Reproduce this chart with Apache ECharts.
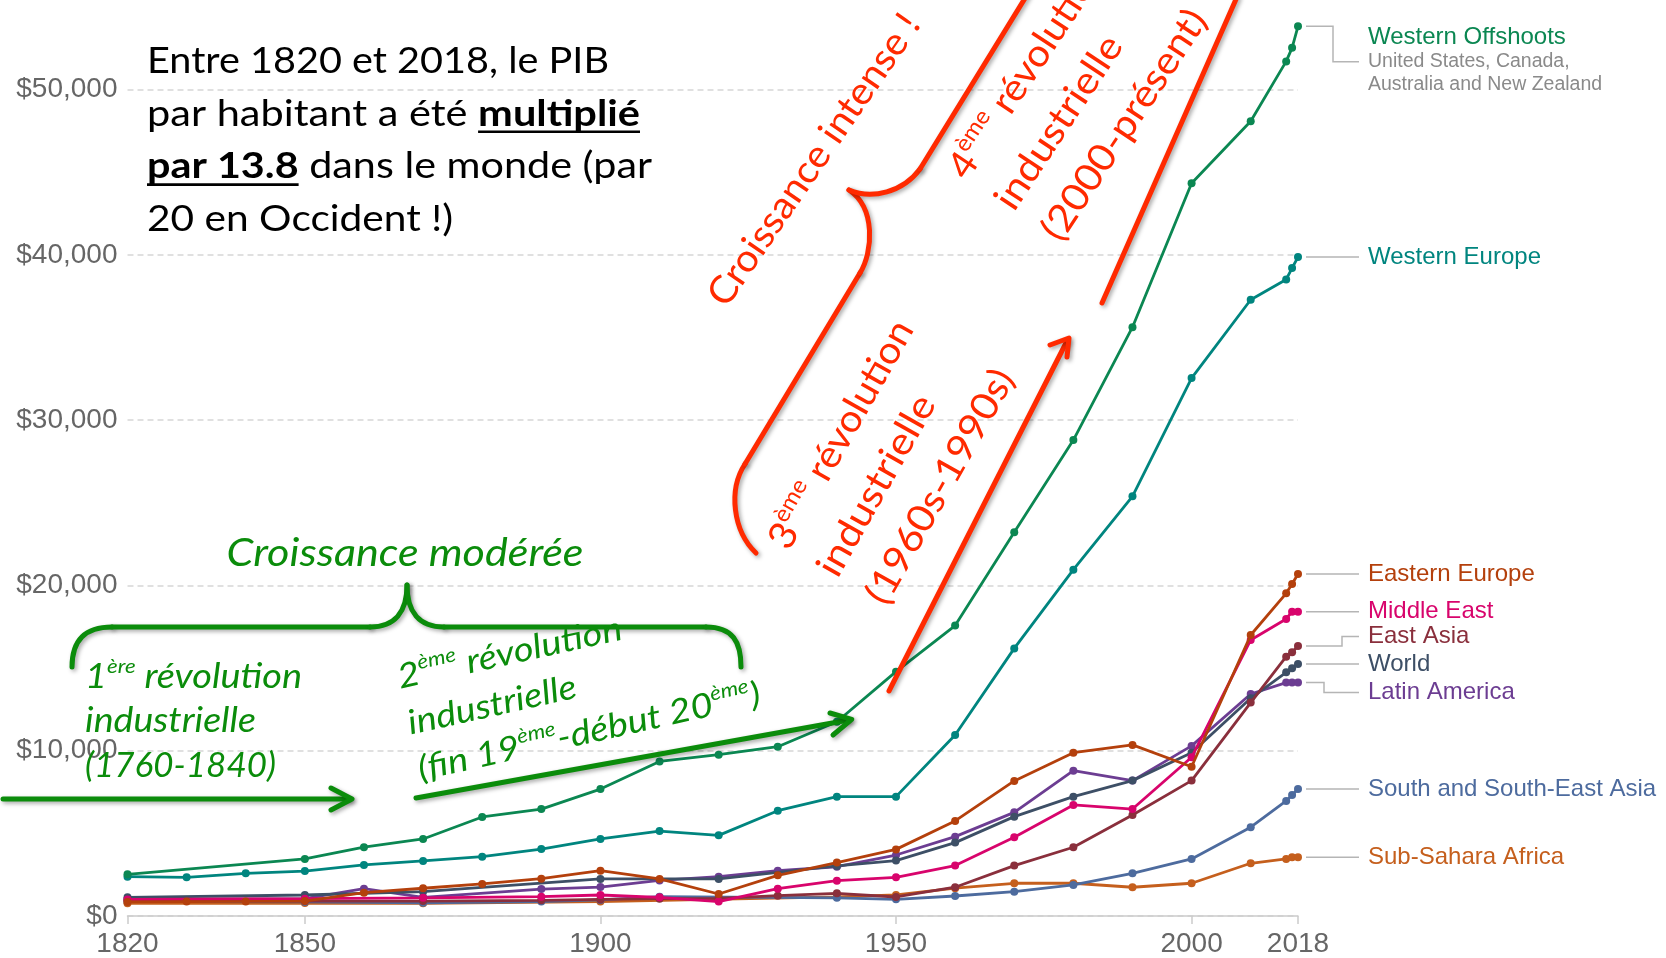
<!DOCTYPE html>
<html><head><meta charset="utf-8">
<script src="https://cdn.jsdelivr.net/npm/echarts@6/dist/echarts.min.js"></script>
<style>html,body{margin:0;padding:0;background:#fff}#c{width:1666px;height:958px}</style>
</head><body><div id="c"></div>
<script>
// ---------------- DATA ----------------
const years = [1820,1830,1840,1850,1860,1870,1880,1890,1900,1910,1920,1930,1940,1950,1960,1970,1980,1990,2000,2010,2016,2017,2018];
const westernOffshoots   = [2520,null,null,3450,4160,4660,5990,6470,7680,9350,9760,10240,11750,14780,17570,23220,28790,35620,44330,48080,51700,52520,53820];
const westernEurope      = [2380,2340,2580,2720,3090,3330,3590,4050,4660,5140,4880,6370,7220,7220,10950,16190,20950,25390,32540,37280,38510,39200,39860];
const easternEurope      = [850,870,880,900,1410,1680,1940,2260,2740,2240,1330,2460,3230,4030,5750,8170,9880,10350,9030,17000,19520,20080,20690];
const middleEast         = [1000,null,null,1050,null,1100,null,1170,1270,1130,870,1650,2140,2340,3050,4760,6720,6470,9600,16700,17970,18410,18410];
const eastAsia           = [950,null,null,900,null,900,null,950,1000,1050,1070,1230,1370,1150,1740,3050,4160,6110,8190,12910,15690,15950,16330];
const world              = [1130,null,null,1270,null,1470,null,null,2240,null,2240,null,3030,3350,4440,6010,7220,8190,9880,13170,14740,14990,15250];
const latinAmerica       = [1010,null,null,1050,1650,1130,null,1630,1750,2150,2380,2740,2980,3690,4800,6270,8790,8190,10290,13430,14120,14120,14120];
const southSouthEastAsia = [880,null,null,850,null,800,null,870,970,1170,null,null,1100,1010,1210,1470,1880,2580,3450,5370,6960,7320,7680];
const subSaharaAfrica    = [770,null,null,780,null,770,null,null,870,null,null,null,1160,1270,1680,1980,1980,1740,1980,3190,3450,3550,3550];

const regionNames = ['Western Offshoots','Western Europe','Eastern Europe','Middle East','East Asia','World','Latin America','South and South-East Asia','Sub-Sahara Africa'];
const regionValues = [westernOffshoots, westernEurope, easternEurope, middleEast, eastAsia, world, latinAmerica, southSouthEastAsia, subSaharaAfrica];
const westernOffshootsNote = ['United States, Canada,', 'Australia and New Zealand'];
const xTickYears = [1820,1850,1900,1950,2000,2018];
const yMin = 0, yMax = 50000, yStep = 10000;

// ---------------- STYLE ----------------
const regionColors = ['#0b8752','#00857f','#b4400c','#d8046c','#8a2f3c','#3d4f66','#6c3d92','#4d6b9e','#c55f1d'];
const LBL = '"Liberation Sans", Arial, Helvetica, sans-serif';
const FAM = 'Lato, "Open Sans", sans-serif';
const GREEN = '#0b8c0b', RED = '#ff2a00';

const chart = echarts.init(document.getElementById('c'), null, {renderer: 'canvas'});

function pairs(vals) {
  const out = [];
  vals.forEach((v, i) => { if (v !== null) out.push([years[i], v]); });
  return out;
}

chart.setOption({
  animation: false,
  backgroundColor: '#fff',
  textStyle: {fontFamily: LBL},
  grid: {left: 127.5, right: 368, top: 89.5, bottom: 42},
  xAxis: {
    type: 'value', min: years[0], max: years[years.length - 1],
    axisLine: {show: true, lineStyle: {color: '#cccccc', width: 1.5}},
    axisTick: {show: true, customValues: xTickYears, length: 8, lineStyle: {color: '#cccccc', width: 1.5}},
    axisLabel: {customValues: xTickYears, fontSize: 28, color: '#666', margin: 14, fontFamily: LBL,
      formatter: v => String(v)},
    splitLine: {show: false}
  },
  yAxis: {
    type: 'value', min: yMin, max: yMax, interval: yStep,
    axisLine: {show: false}, axisTick: {show: false},
    axisLabel: {fontSize: 28, color: '#666', margin: 10, fontFamily: LBL,
      formatter: v => '$' + v.toLocaleString('en-US')},
    splitLine: {show: true, lineStyle: {color: '#d6d6d6', width: 1.5, type: [6, 4]}}
  },
  series: regionNames.map((name, i) => ({
    type: 'line', name, data: pairs(regionValues[i]), clip: false,
    symbol: 'circle', symbolSize: 8, showSymbol: true,
    lineStyle: {width: 2.8, color: regionColors[i]},
    itemStyle: {color: regionColors[i]},
    emphasis: {disabled: true}, z: 2 + (regionNames.length - i) * 0.01
  }))
});

// ---------------- GRAPHICS ----------------
const g = [];

// right-hand labels with connectors
const labelAdjust = {0: {dy: 35.3, elbowX: 1333}, 4: {dy: -9.5, elbowX: 1342}, 6: {dy: 10, elbowX: 1324}};
regionNames.forEach((name, i) => {
  const vals = regionValues[i];
  const p = chart.convertToPixel({gridIndex: 0}, [years[years.length - 1], vals[vals.length - 1]]);
  const px = p[0], py = p[1];
  const adj = labelAdjust[i];
  const x0 = px + 8, x1 = 1359, tx = 1368;
  let ly = py, pts;
  if (adj) { ly = py + adj.dy; pts = [[x0, py], [adj.elbowX, py], [adj.elbowX, ly], [x1, ly]]; }
  else { pts = [[x0, py], [x1, py]]; }
  g.push({type: 'polyline', shape: {points: pts}, style: {stroke: '#b5b5b5', lineWidth: 1.5, fill: null}, silent: true, z: 50});
  const base = {fontFamily: LBL, align: 'left', verticalAlign: 'middle', textAlign: 'left', textVerticalAlign: 'middle'};
  if (i === 0) {
    g.push({type: 'text', x: tx, y: ly - 24, silent: true, z: 50, style: Object.assign({text: name, fill: regionColors[i], fontSize: 24}, base)});
    westernOffshootsNote.forEach((t, k) => {
      g.push({type: 'text', x: tx, y: ly + k * 23.3, silent: true, z: 50, style: Object.assign({text: t, fill: '#8a8a8a', fontSize: 19.5}, base)});
    });
  } else {
    g.push({type: 'text', x: tx, y: ly, silent: true, z: 50, style: Object.assign({text: name, fill: regionColors[i], fontSize: 24}, base)});
  }
});

// annotation helpers
function measureW(style) {
  const t = new echarts.graphic.Text({style: Object.assign({}, style)});
  return t.getBoundingRect().width;
}
function makeStyle(o) {
  const fstyle = o.italic ? 'italic' : 'normal';
  const lh = Math.round(o.fs * 1.2);
  const supFs = Math.round(o.fs * 0.6);
  const al = o.align || 'left';
  return {
    text: o.text, fill: o.color, fontSize: o.fs, fontFamily: FAM, fontStyle: fstyle,
    fontWeight: o.bold ? 'bold' : 'normal', lineHeight: lh,
    align: al, verticalAlign: 'middle', textAlign: al, textVerticalAlign: 'middle',
    rich: {
      s: {fontSize: supFs, fontFamily: FAM, fontStyle: fstyle, fill: o.color, verticalAlign: 'top', lineHeight: supFs},
      b: {fontSize: o.fs, fontFamily: FAM, fontStyle: fstyle, fontWeight: 'bold', fill: o.color, lineHeight: lh}
    }
  };
}
function annot(o) {
  const style = makeStyle(o);
  const sx = o.sx !== undefined ? o.sx : (o.w ? o.w / measureW(style) : 1);
  return {type: 'text', x: o.x, y: o.y, rotation: (o.rot || 0) * Math.PI / 180, scaleX: sx, scaleY: 1, style, z: 100, silent: true};
}
function block(lines, x0, y0, rot, spacing, common) {
  const r = rot * Math.PI / 180, nx = Math.sin(r), ny = Math.cos(r);
  lines.forEach((ln, k) => {
    g.push(annot(Object.assign({}, common, ln, {x: x0 + k * spacing * nx, y: y0 + k * spacing * ny, rot})));
  });
}
const shadow = {shadowColor: 'rgba(0,0,0,0.35)', shadowBlur: 4, shadowOffsetX: 2, shadowOffsetY: 2};
function stroke(color, w) { return Object.assign({stroke: color, lineWidth: w, fill: null, lineCap: 'round', lineJoin: 'round'}, shadow); }
function bez(p0, c1, c2, p1, color, w) {
  g.push({type: 'bezierCurve', shape: {x1: p0[0], y1: p0[1], cpx1: c1[0], cpy1: c1[1], cpx2: c2[0], cpy2: c2[1], x2: p1[0], y2: p1[1]}, style: stroke(color, w), silent: true, z: 90});
}
function seg(p0, p1, color, w) {
  g.push({type: 'line', shape: {x1: p0[0], y1: p0[1], x2: p1[0], y2: p1[1]}, style: stroke(color, w), silent: true, z: 90});
}
function chevron(a, tip, b, color, w) {
  g.push({type: 'polyline', shape: {points: [a, tip, b]}, style: stroke(color, w), silent: true, z: 90});
}

// black statement (each line fitted to the width it has in the picture)
const blackFs = 36, blackX = 147;
const blackBaselines = [74, 126.8, 179.6, 232.4];
const blackWidths = [462, 493, 505, 306];
const blackLines = ['Entre 1820 et 2018, le PIB', 'par habitant a été {b|multiplié}', '{b|par 13.8} dans le monde (par', '20 en Occident !)'];
const blackSx = blackLines.map((t, k) => blackWidths[k] / measureW(makeStyle({text: t, fs: blackFs, color: '#000'})));
blackLines.forEach((t, k) => {
  g.push(annot({text: t, fs: blackFs, color: '#000', x: blackX, y: blackBaselines[k] - 0.3 * blackFs - 2, sx: blackSx[k]}));
});
// underlines for bold words
(function () {
  const pre = measureW(makeStyle({text: 'par habitant a été ', fs: blackFs, color: '#000'}));
  const w1 = measureW(makeStyle({text: 'multiplié', fs: blackFs, color: '#000', bold: true}));
  const w2 = measureW(makeStyle({text: 'par 13.8', fs: blackFs, color: '#000', bold: true}));
  const u = {stroke: '#000', lineWidth: 2.6};
  g.push({type: 'line', shape: {x1: blackX + pre * blackSx[1], y1: blackBaselines[1] + 5, x2: blackX + (pre + w1) * blackSx[1], y2: blackBaselines[1] + 5}, style: u, silent: true, z: 100});
  g.push({type: 'line', shape: {x1: blackX, y1: blackBaselines[2] + 5, x2: blackX + w2 * blackSx[2], y2: blackBaselines[2] + 5}, style: u, silent: true, z: 100});
})();

// green annotations
g.push(annot({text: 'Croissance modérée', fs: 39, italic: true, color: GREEN, x: 405, y: 553, align: 'center', w: 357}));
block([
  {text: '1{s|ère} révolution', w: 217},
  {text: 'industrielle', w: 171},
  {text: '(1760-1840)', w: 191}
], 85, 677, 0, 44.5, {fs: 34, italic: true, color: GREEN});
block([
  {text: '2{s|ème} révolution', w: 229},
  {text: 'industrielle', w: 172},
  {text: '(fin 19{s|ème}-début 20{s|ème})', w: 350}
], 398, 678, 12.5, 47, {fs: 34, italic: true, color: GREEN});

// green brace
bez([72, 667], [72, 640], [85, 627], [112, 627], GREEN, 5);
seg([112, 627], [370, 627], GREEN, 5);
bez([370, 627], [395, 627], [407, 612], [407, 585], GREEN, 5);
bez([407, 585], [407, 612], [419, 627], [444, 627], GREEN, 5);
seg([444, 627], [706, 627], GREEN, 5);
bez([706, 627], [733, 627], [741, 642], [741, 667], GREEN, 5);
// green arrows
seg([3, 799], [350, 799], GREEN, 5);
chevron([331, 788], [352, 799], [331, 810], GREEN, 5);
seg([416, 798], [849, 720], GREEN, 5);
chevron([830, 713], [851.7, 719.3], [833, 735], GREEN, 5);

// red annotations
g.push(annot({text: 'Croissance intense !', fs: 38, color: RED, x: 814, y: 160, rot: 55.5, align: 'center', w: 345}));
block([
  {text: '3{s|ème} révolution', w: 256},
  {text: 'industrielle', w: 202},
  {text: '(1960s-1990s)', w: 263}
], 778, 546, 60.5, 56, {fs: 38, color: RED});
block([
  {text: '4{s|ème} révolution', w: 256},
  {text: 'industrielle', w: 200},
  {text: '(2000-présent)', w: 268}
], 957, 175, 56.5, 56, {fs: 38, color: RED});
// red brace
bez([756, 553], [733, 531], [728, 490], [745, 464], RED, 5);
seg([745, 464], [860, 273], RED, 5);
bez([860, 273], [873, 252], [876, 208], [849, 190], RED, 5);
bez([849, 190], [872, 200], [903, 192], [920, 169], RED, 5);
seg([920, 169], [1027, -5], RED, 5);
// red arrow and line
seg([889, 691], [1067, 341], RED, 5);
chevron([1050, 345], [1069, 338], [1067, 357], RED, 5);
seg([1102, 303], [1237, -3], RED, 5);

chart.setOption({graphic: {elements: g}});
</script>
</body></html>
